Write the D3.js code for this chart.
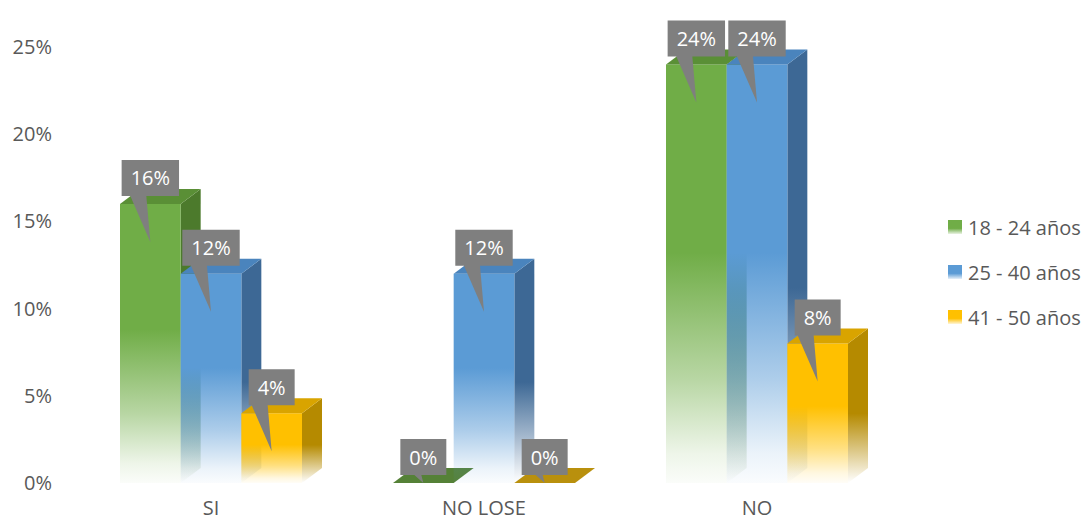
<!DOCTYPE html>
<html>
<head>
<meta charset="utf-8">
<script src="https://cdn.jsdelivr.net/npm/d3@7"></script>
<style>
  html, body { margin: 0; padding: 0; background: #fff; }
  svg { display: block; font-family: "Open Sans", "Liberation Sans", sans-serif; }
</style>
</head>
<body>
<svg id="chart" width="1088" height="522"></svg>
<script>
// ---- data ----
const categories = ["SI", "NO LOSE", "NO"];
const seriesNames = ["18 - 24 años", "25 - 40 años", "41 - 50 años"];
const s18to24 = [0.16, 0.00, 0.24];
const s25to40 = [0.12, 0.12, 0.24];
const s41to50 = [0.04, 0.00, 0.08];
const yTickValues = [0, 0.05, 0.10, 0.15, 0.20, 0.25];

// ---- styles ----
const frontColors = ["#70ad47", "#5b9bd5", "#ffc000"];
const topColors   = ["#5a8f36", "#4a84bd", "#d9a400"];
const sideColors  = ["#4c7a2c", "#3d6895", "#b58a00"];
const textColor = "#595959";
const labelFill = "#7f7f7f";
const depthX = 20, depthY = -15;

const seriesData = [s18to24, s25to40, s41to50];

const svg = d3.select("#chart");
const defs = svg.append("defs");

function makeGrad(id, color, stops) {
  const g = defs.append("linearGradient").attr("id", id)
    .attr("x1", 0).attr("y1", 0).attr("x2", 0).attr("y2", 1);
  stops.forEach(([o, a]) => g.append("stop").attr("offset", o)
    .attr("stop-color", color).attr("stop-opacity", a));
}
const fadeStops = [[0, 1], [0.45, 1], [0.75, 0.5], [0.93, 0.12], [1, 0.03]];
const sideStops = [[0, 1], [0.55, 1], [0.8, 0.45], [1, 0.0]];
frontColors.forEach((c, i) => makeGrad("front" + i, c, fadeStops));
sideColors.forEach((c, i) => makeGrad("side" + i, c, sideStops));
frontColors.forEach((c, i) => makeGrad("leg" + i, c, [[0, 1], [0.6, 1], [1, 0.15]]));

// ---- scales ----
const y = d3.scaleLinear().domain([0, 0.25]).range([483, 47]);
const x0 = d3.scaleBand().domain(categories).range([74.5, 893.5]).paddingInner(0).paddingOuter(0);
const groupW = 182;
const x1 = d3.scaleBand().domain(d3.range(seriesNames.length)).range([0, groupW]).padding(0);
const groupOffset = (x0.bandwidth() - groupW) / 2;

// ---- y axis ----
const yAxis = d3.axisLeft(y).tickValues(yTickValues).tickFormat(d3.format(".0%"))
  .tickSize(0).tickPadding(3);
const yg = svg.append("g").attr("transform", "translate(55,0)").call(yAxis);
yg.select(".domain").remove();
yg.selectAll("text").attr("fill", textColor).style("font-size", "20px")
  .style("font-family", "'Open Sans', sans-serif");

// ---- x axis ----
const xAxis = d3.axisBottom(x0).tickSize(0).tickPadding(18);
const xg = svg.append("g").attr("transform", `translate(0,${y(0)})`).call(xAxis);
xg.select(".domain").remove();
xg.selectAll("text").attr("fill", textColor).style("font-size", "20px")
  .style("font-family", "'Open Sans', sans-serif");

// ---- bars ----
const barsG = svg.append("g");
const bars = [];
categories.forEach((cat, ci) => {
  seriesData.forEach((arr, si) => {
    const v = arr[ci];
    const xa = x0(cat) + groupOffset + x1(si);
    const xb = xa + x1.bandwidth();
    const yt = y(v);
    const yb = y(0);
    bars.push({ci, si, v, xa, xb, yt, yb});
  });
});

bars.forEach(b => {
  const g = barsG.append("g");
  const pts = a => a.map(p => p.join(",")).join(" ");
  if (b.v > 0) {
    g.append("polygon")
      .attr("points", pts([[b.xb, b.yt], [b.xb + depthX, b.yt + depthY], [b.xb + depthX, b.yb + depthY], [b.xb, b.yb]]))
      .attr("fill", `url(#side${b.si})`);
    g.append("rect").attr("x", b.xa).attr("y", b.yt)
      .attr("width", b.xb - b.xa).attr("height", b.yb - b.yt)
      .attr("fill", `url(#front${b.si})`);
  }
  g.append("polygon")
    .attr("points", pts([[b.xa, b.yt], [b.xa + depthX, b.yt + depthY], [b.xb + depthX, b.yt + depthY], [b.xb, b.yt]]))
    .attr("fill", b.v > 0 ? topColors[b.si] : sideColors[b.si])
    .attr("opacity", b.v > 0 ? 1 : 0.95);
});

// ---- data label callouts ----
const labelsG = svg.append("g");
const fmt = d3.format(".0%");
bars.forEach(b => {
  const cx = (b.xa + b.xb) / 2;
  const boxBottom = b.yt - 8;
  const boxTop = boxBottom - 36;
  const tipY = Math.min(b.yt + 38, b.yb);
  const g = labelsG.append("g");
  const path = g.append("path").attr("fill", labelFill);
  const t = g.append("text").attr("x", cx).attr("y", (boxTop + boxBottom) / 2)
    .attr("text-anchor", "middle").attr("dominant-baseline", "central")
    .attr("fill", "#ffffff").style("font-size", "20px")
    .style("font-family", "'Open Sans', sans-serif")
    .text(fmt(b.v));
  const w = t.node().getComputedTextLength() + 18;
  const l = cx - w / 2, r = cx + w / 2;
  const wa = b.v > 0 ? cx - 20 : cx - 9;
  const wb = b.v > 0 ? cx - 4 : cx - 2;
  path.attr("d", `M${l},${boxTop} L${r},${boxTop} L${r},${boxBottom} L${wb},${boxBottom} L${cx},${tipY} L${wa},${boxBottom} L${l},${boxBottom} Z`);
});

// ---- legend ----
const legend = svg.append("g").attr("transform", "translate(948,220)");
seriesNames.forEach((name, i) => {
  const g = legend.append("g").attr("transform", `translate(0,${i * 45})`);
  g.append("rect").attr("width", 14).attr("height", 14).attr("fill", `url(#leg${i})`);
  g.append("text").attr("x", 20).attr("y", 7).attr("dominant-baseline", "central")
    .attr("fill", textColor).style("font-size", "20px")
    .style("font-family", "'Open Sans', sans-serif").text(name);
});
</script>
</body>
</html>
